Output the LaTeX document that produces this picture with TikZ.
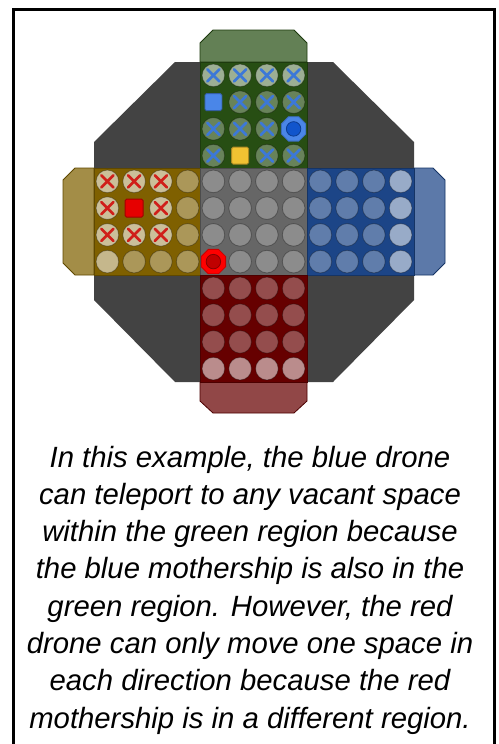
\documentclass[tikz,border=0pt]{standalone}
\usepackage{fontspec}
\setmainfont{Liberation Sans}
\usetikzlibrary{shapes.geometric}
\definecolor{octgray}{HTML}{434343}
\definecolor{gbg}{HTML}{274E13}
\definecolor{ybg}{HTML}{7F6000}
\definecolor{kbg}{HTML}{666666}
\definecolor{bbg}{HTML}{1C4587}
\definecolor{rbg}{HTML}{660000}
\definecolor{xblue}{HTML}{3C78D8}
\definecolor{xred}{HTML}{D01F1A}
\definecolor{sqblue}{HTML}{4A86E8}
\definecolor{sqyellow}{HTML}{F1C232}
\definecolor{sqred}{HTML}{E60000}
\definecolor{corblue}{HTML}{1155CC}
\definecolor{corred}{HTML}{C00000}
\tikzset{
  regionbox/.style={draw=#1!75!black, line width=0.8, fill=#1},
  tabbox/.style={draw=#1!75!black, line width=0.8, fill=#1!72!white},
  spotc/.style={fill=white, fill opacity=#1, draw=black, draw opacity=0.3, line width=0.8},
  xmk/.style={draw=#1, line width=2.5, line cap=round},
  sqmk/.style={draw=#1!70!black, fill=#1, line width=0.8, rounded corners=1.5},
  drone/.style={regular polygon, regular polygon sides=8, minimum size=26.5, inner sep=0pt, fill=#1, draw=#1!80!black, line width=0.8},
  dcore/.style={circle, minimum size=14.5, inner sep=0pt, fill=#1, draw=#1!70!black, line width=0.8},
  captxt/.style={font=\itshape\fontsize{29.3}{37.3}\selectfont, anchor=base, inner sep=0pt}
}
\newcommand\spotat[4]{%
  \pgfmathsetmacro\px{#1+13.375+26.75*#3}%
  \pgfmathsetmacro\py{#2+13.375+26.75*#4}%
}
\begin{document}
\begin{tikzpicture}[x=1pt,y=-1pt]
\useasboundingbox (0,0) rectangle (498,744);
\fill[white] (0,0) rectangle (498,744);
\draw[line width=3] (13.5,9.5) rectangle (494.5,770);
% octagon
\fill[octgray] (175,62) -- (333,62) -- (414,142) -- (414,300) -- (333,382) -- (175,382) -- (94,300) -- (94,142) -- cycle;
% tabs
\draw[tabbox=gbg] (200,62) -- (200,43) -- (213,30) -- (294,30) -- (307,43) -- (307,62) -- cycle;
\draw[tabbox=ybg] (94,168) -- (75,168) -- (63,180) -- (63,263) -- (75,275) -- (94,275) -- cycle;
\draw[tabbox=bbg] (414,168) -- (433,168) -- (445,180) -- (445,263) -- (433,275) -- (414,275) -- cycle;
\draw[tabbox=rbg] (200,382) -- (200,401) -- (213,413) -- (294,413) -- (307,401) -- (307,382) -- cycle;
% regions
\draw[regionbox=gbg] (200,62) rectangle (307,168);
\draw[regionbox=ybg] (94,168) rectangle (200,275);
\draw[regionbox=kbg] (200,168) rectangle (307,275);
\draw[regionbox=bbg] (307,168) rectangle (414,275);
\draw[regionbox=rbg] (200,275) rectangle (307,382);
% green spots
\foreach \c/\r/\o in {0/0/0.55,1/0/0.55,2/0/0.55,3/0/0.55,1/1/0.3,2/1/0.3,3/1/0.3,0/2/0.3,1/2/0.3,2/2/0.3,0/3/0.3,2/3/0.3,3/3/0.3}{
  \spotat{200}{62}{\c}{\r}
  \path[spotc=\o] (\px,\py) circle (11.3);
  \draw[xmk=xblue] (\px,\py) ++(-6,-6) -- ++(12,12) (\px,\py) ++(-6,6) -- ++(12,-12);
}
% yellow spots
\foreach \c/\r/\o/\k in {0/0/0.6/1,1/0/0.6/1,2/0/0.6/1,3/0/0.35/0,0/1/0.6/1,2/1/0.6/1,3/1/0.35/0,0/2/0.6/1,1/2/0.6/1,2/2/0.6/1,3/2/0.35/0,0/3/0.55/0,1/3/0.35/0,2/3/0.35/0,3/3/0.35/0}{
  \spotat{94}{168}{\c}{\r}
  \path[spotc=\o] (\px,\py) circle (11.3);
  \ifnum\k=1
  \draw[xmk=xred] (\px,\py) ++(-6,-6) -- ++(12,12) (\px,\py) ++(-6,6) -- ++(12,-12);
  \fi
}
% gray spots
\foreach \c/\r in {0/0,1/0,2/0,3/0,0/1,1/1,2/1,3/1,0/2,1/2,2/2,3/2,1/3,2/3,3/3}{
  \spotat{200}{168}{\c}{\r}
  \path[spotc=0.25] (\px,\py) circle (11.3);
}
% blue spots
\foreach \c/\o in {0/0.3,1/0.3,2/0.3,3/0.55}{
  \foreach \r in {0,...,3}{
    \spotat{307}{168}{\c}{\r}
    \path[spotc=\o] (\px,\py) circle (11.3);
  }
}
% red spots
\foreach \r/\o in {0/0.3,1/0.3,2/0.3,3/0.55}{
  \foreach \c in {0,...,3}{
    \spotat{200}{275}{\c}{\r}
    \path[spotc=\o] (\px,\py) circle (11.3);
  }
}
% motherships
\node[sqmk=sqblue, minimum size=17, inner sep=0pt] (bluemother) at (213.4,102.1) {};
\node[sqmk=sqyellow, minimum size=17, inner sep=0pt] (yellowmother) at (240.1,155.6) {};
\node[sqmk=sqred, minimum size=18, inner sep=0pt] (redmother) at (134.1,208.1) {};
% drones
\node[drone=sqblue] (bluedrone) at (293.6,128.9) {};
\node[dcore=corblue] (bluecore) at (bluedrone.center) {};
\node[drone=red] (reddrone) at (213.4,261.6) {};
\node[dcore=corred] (redcore) at (reddrone.center) {};
% caption
\node[captxt] (l1) at (250,467) {In this example, the blue drone};
\node[captxt] (l2) at (250,504.3) {can teleport to any vacant space};
\node[captxt] (l3) at (250,541.6) {within the green region because};
\node[captxt] (l4) at (250,578.9) {the blue mothership is also in the};
\node[captxt] (l5) at (250,616.2) {green region. However, the red};
\node[captxt] (l6) at (250,653.5) {drone can only move one space in};
\node[captxt] (l7) at (250,690.8) {each direction because the red};
\node[captxt] (l8) at (250,728.1) {mothership is in a different region.};
\end{tikzpicture}
\end{document}
